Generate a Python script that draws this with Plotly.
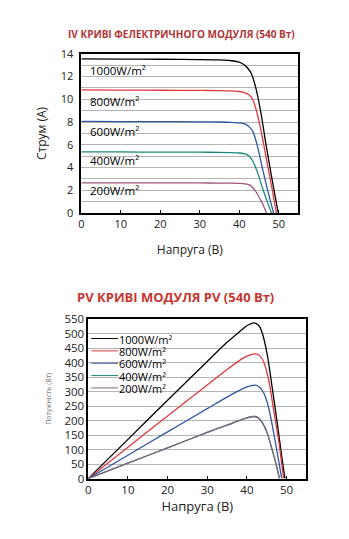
import plotly.graph_objects as go

FONT = "Open Sans"

# ---------------- IV curves (current vs voltage) ----------------
iv_labels = ["1000W/m²", "800W/m²", "600W/m²", "400W/m²", "200W/m²"]

iv_v_1000 = [0, 10, 20, 30, 35, 38, 40, 41.3, 42.2, 43, 44.2, 45.5, 46.7, 48.4, 49.9]
iv_i_1000 = [13.55, 13.53, 13.51, 13.48, 13.45, 13.38, 13.25, 13.0, 12.7, 12.3, 11.0, 8.8, 6.2, 2.8, 0]

iv_v_800 = [0, 10, 20, 30, 35, 38, 40, 41.3, 42.6, 43.4, 44.2, 45.5, 46.7, 48.4, 49.4]
iv_i_800 = [10.82, 10.8, 10.79, 10.77, 10.76, 10.73, 10.68, 10.58, 10.35, 10.0, 9.2, 7.3, 5.1, 2.0, 0]

iv_v_600 = [0, 10, 20, 30, 35, 38, 40, 41.7, 42.6, 43.4, 44.6, 45.9, 47.2, 48.7]
iv_i_600 = [8.05, 8.04, 8.03, 8.02, 8.0, 7.97, 7.92, 7.8, 7.55, 7.2, 5.9, 3.9, 2.0, 0]

iv_v_400 = [0, 10, 20, 30, 35, 38, 40, 41.7, 42.6, 43.4, 44.6, 45.9, 47.2, 48.2]
iv_i_400 = [5.38, 5.37, 5.36, 5.35, 5.34, 5.32, 5.28, 5.18, 4.98, 4.6, 3.6, 2.2, 0.9, 0]

iv_v_200 = [0, 10, 20, 30, 35, 38, 40, 41.5, 42.6, 43.4, 44.2, 45.5, 46.2, 46.9]
iv_i_200 = [2.66, 2.66, 2.65, 2.65, 2.64, 2.63, 2.61, 2.57, 2.48, 2.25, 1.9, 1.1, 0.6, 0]

# in-plot label anchors (voltage, current)
iv_label_v = [1.6, 1.6, 1.6, 1.6, 1.6]
iv_label_i = [12.55, 9.82, 7.17, 4.6, 1.96]

# ---------------- PV curves (power vs voltage) ----------------
pv_v_1000 = [0, 10, 20, 30, 35, 38, 40, 41.8, 43, 43.9, 45.2, 46.4, 47.7, 48.9, 49.6]
pv_p_1000 = [0, 135, 270, 404, 470, 505, 527, 537, 528, 501, 422, 312, 188, 65, 0]

pv_v_800 = [0, 10, 20, 30, 35, 38, 40, 42.1, 43.2, 44.3, 45.6, 46.8, 48.1, 49.25]
pv_p_800 = [0, 108, 216, 323, 376, 406, 422, 430, 424, 400, 333, 232, 121, 0]

pv_v_600 = [0, 10, 20, 30, 35, 38, 40, 42.1, 43.2, 44.3, 45.6, 46.8, 48.1, 48.8]
pv_p_600 = [0, 80.5, 161, 241, 281, 303, 316, 322, 315, 294, 238, 154, 54, 0]

pv_v_400 = [0, 10, 20, 30, 35, 38, 40, 41.8, 42.8, 43.9, 45.2, 46.4, 47.7, 48.2]
pv_p_400 = [0, 53, 106, 159, 184, 200, 209, 214, 210, 193, 154, 98, 31, 0]

pv_v_200 = [0, 10, 20, 30, 35, 38, 40, 41.8, 42.8, 43.9, 45.2, 46.4, 47.7, 48.2]
pv_p_200 = [0, 53, 106, 159, 184, 200, 209, 214, 210, 193, 154, 98, 31, 0]

iv_colors = ["#000000", "#e0393e", "#2f55a4", "#19897a", "#a2567f"]
pv_colors = ["#000000", "#e0393e", "#2f55a4", "#19897a", "#86657f"]

iv_data = [(iv_v_1000, iv_i_1000), (iv_v_800, iv_i_800), (iv_v_600, iv_i_600),
           (iv_v_400, iv_i_400), (iv_v_200, iv_i_200)]
pv_data = [(pv_v_1000, pv_p_1000), (pv_v_800, pv_p_800), (pv_v_600, pv_p_600),
           (pv_v_400, pv_p_400), (pv_v_200, pv_p_200)]

fig = go.Figure()

for (v, i), c, lab in zip(iv_data, iv_colors, iv_labels):
    fig.add_trace(go.Scatter(x=v, y=i, mode="lines", xaxis="x", yaxis="y",
                             line=dict(color=c, width=1.3, shape="spline", smoothing=0.6),
                             showlegend=False, name=lab, hoverinfo="skip"))

for (v, p), c, lab in zip(pv_data, pv_colors, iv_labels):
    fig.add_trace(go.Scatter(x=v, y=p, mode="lines", xaxis="x2", yaxis="y2",
                             line=dict(color=c, width=1.3, shape="spline", smoothing=0.6),
                             showlegend=False, name=lab, hoverinfo="skip"))

W, H = 349, 539
def px(x): return x / W
def py(y): return 1 - y / H

axis_common = dict(showline=True, linecolor="#000000", linewidth=1.5, mirror=True,
                   zeroline=False)

fig.update_layout(
    width=W, height=H,
    margin=dict(l=0, r=0, t=0, b=0),
    paper_bgcolor="white", plot_bgcolor="white",
    font=dict(family=FONT, color="#222222"),
    showlegend=False,
    xaxis=dict(domain=[px(79), px(298)], anchor="y", range=[0, 55], tick0=0, dtick=10,
               showgrid=False, ticks="inside", ticklen=3, tickcolor="#000000",
               tickfont=dict(family=FONT, size=11, color="#222222"), **axis_common,
               title=dict(text="Напруга (В)", font=dict(family=FONT, size=12, color="#222222"), standoff=16)),
    yaxis=dict(domain=[py(211), py(47)], anchor="x", range=[0, 14], tick0=0, dtick=2,
               showgrid=True, gridcolor="#b4b4b4", gridwidth=1,
               minor=dict(dtick=1, showgrid=True, gridcolor="#b4b4b4", gridwidth=1, ticks=""),
               ticks="", ticklabelstandoff=4,
               tickfont=dict(family=FONT, size=11, color="#222222"), **axis_common,
               title=dict(text="Струм (A)", font=dict(family=FONT, size=12, color="#222222"), standoff=12)),
    xaxis2=dict(domain=[px(86), px(306)], anchor="y2", range=[0, 55], tick0=0, dtick=10,
                showgrid=False, ticks="inside", ticklen=3, tickcolor="#000000",
                tickfont=dict(family=FONT, size=11.5, color="#222222"), **axis_common,
                title=dict(text="Напруга (В)", font=dict(family=FONT, size=13, color="#222222"), standoff=6)),
    yaxis2=dict(domain=[py(484), py(320)], anchor="x2", range=[0, 550], tick0=0, dtick=50,
                showgrid=True, gridcolor="#b4b4b4", gridwidth=1, ticks="",
                tickfont=dict(family=FONT, size=11.5, color="#222222"), **axis_common,
                title=dict(text="Потужність (Вт)", font=dict(family=FONT, size=7, color="#777777"), standoff=12)),
)

for lab, lv, li in zip(iv_labels, iv_label_v, iv_label_i):
    fig.add_annotation(x=lv, y=li, xref="x", yref="y", text=lab, showarrow=False,
                       xanchor="left", yanchor="middle",
                       font=dict(family=FONT, size=11.5, color="#000000"))

# compact legend for the PV chart (rows as tight as in the reference)
LEG_X0, LEG_X1, LEG_TX, LEG_Y0, LEG_STEP = 89, 116, 116, 340, 12.7
for k, (lab, c) in enumerate(zip(iv_labels, pv_colors)):
    yy = LEG_Y0 + k * LEG_STEP
    fig.add_shape(type="line", xref="paper", yref="paper",
                  x0=px(LEG_X0), x1=px(LEG_X1), y0=py(yy), y1=py(yy),
                  line=dict(color=c, width=1))
    fig.add_annotation(x=px(LEG_TX), y=py(yy), xref="paper", yref="paper", text=lab,
                       showarrow=False, xanchor="left", yanchor="middle", height=12,
                       borderpad=0,
                       font=dict(family=FONT, size=11, color="#000000"))

fig.add_annotation(x=px(180), y=py(27), xref="paper", yref="paper",
                   text="<b>IV КРИВІ ФЕЛЕКТРИЧНОГО МОДУЛЯ (540 Вт)</b>", showarrow=False,
                   xanchor="center", yanchor="middle",
                   font=dict(family=FONT, size=10, color="#b03535"))
fig.add_annotation(x=px(174), y=py(297), xref="paper", yref="paper",
                   text="<b>PV КРИВІ МОДУЛЯ PV (540 Вт)</b>", showarrow=False,
                   xanchor="center", yanchor="middle",
                   font=dict(family=FONT, size=13, color="#c8352f"))

fig.write_html("out.html")
